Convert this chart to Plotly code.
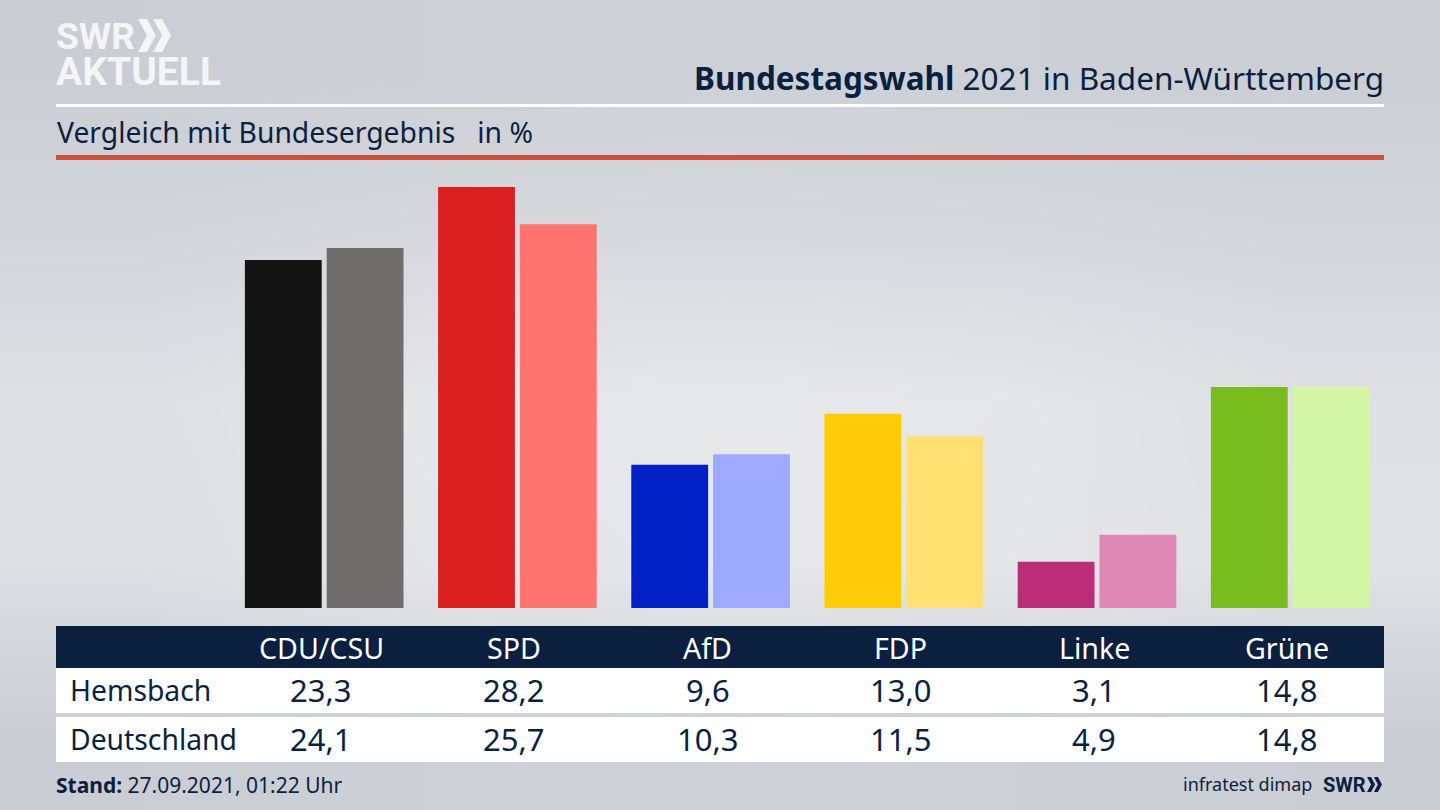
import plotly.graph_objects as go

W, H = 1440, 810
NAVY = "#0b1f3f"
FONT = "Noto Sans"
LOGO_FONT = "Roboto"

parties = ["CDU/CSU", "SPD", "AfD", "FDP", "Linke", "Grüne"]
hemsbach = [23.3, 28.2, 9.6, 13.0, 3.1, 14.8]
deutschland = [24.1, 25.7, 10.3, 11.5, 4.9, 14.8]
colors_hemsbach = ["#141414", "#d9201f", "#0020c4", "#ffcc0a", "#bb2d76", "#78bc1d"]
colors_deutschland = ["#6f6e6c", "#ff7370", "#9daaff", "#ffe070", "#df88b5", "#d3f5a6"]

# background greys, top to bottom
bg_levels = [
    [0.05, 0.12, 0.15, 0.12, 0.08],
    [0.32, 0.42, 0.45, 0.42, 0.34],
    [0.66, 0.88, 0.95, 0.88, 0.66],
    [0.62, 0.82, 0.90, 0.85, 0.72],
    [0.05, 0.12, 0.15, 0.12, 0.05],
]


def fx(x):
    return x / W


def fy(y):
    return 1 - y / H


def rect(x0, y0, x1, y1, color):
    return dict(type="rect", xref="paper", yref="paper", x0=fx(x0), x1=fx(x1),
                y0=fy(y0), y1=fy(y1), fillcolor=color, line_width=0, layer="above")


def chevrons(x, y, h, color):
    d = h * 0.27
    step = h * 0.46
    out = []
    for k in (0, 1):
        x0 = x + k * step
        pts = [(x0, y), (x0 + d, y), (x0 + 2 * d, y + h / 2), (x0 + d, y + h), (x0, y + h), (x0 + d, y + h / 2)]
        path = "M " + " L ".join(f"{fx(a):.5f},{fy(b):.5f}" for a, b in pts) + " Z"
        out.append(dict(type="path", xref="paper", yref="paper", path=path, fillcolor=color, line_width=0))
    return out


def label(x, y, text, size, color=NAVY, xanchor="left", xref="paper", family=FONT, xshift=0, **kw):
    return dict(x=fx(x) if xref == "paper" else x, y=fy(y), xref=xref, yref="paper", text=text,
                showarrow=False, xanchor=xanchor, yanchor="middle", xshift=xshift,
                font=dict(family=family, size=size, color=color), **kw)


fig = go.Figure()

fig.add_trace(go.Heatmap(z=bg_levels, zmin=0, zmax=1, zsmooth="best", showscale=False, hoverinfo="skip",
                         colorscale=[[0, "#c9ccd3"], [1, "#e9eaec"]], xaxis="x", yaxis="y"))
fig.add_trace(go.Bar(x=parties, y=hemsbach, name="Hemsbach", marker_color=colors_hemsbach,
                     marker_line_width=0, xaxis="x2", yaxis="y2"))
fig.add_trace(go.Bar(x=parties, y=deutschland, name="Deutschland", marker_color=colors_deutschland,
                     marker_line_width=0, xaxis="x2", yaxis="y2"))

shapes = [
    rect(56, 104, 1384, 107, "#ffffff"),
    rect(56, 155, 1384, 160, "#c9503c"),
    rect(56, 626, 1384, 668, NAVY),
    rect(56, 668, 1384, 713, "#ffffff"),
    rect(56, 717, 1384, 762, "#ffffff"),
]
shapes += chevrons(138, 19, 33, "#f4f5f6")
shapes += chevrons(1367, 777, 15, NAVY)

annotations = [
    label(54, 36, "<b>SWR</b>", 37, "#f4f5f6", family=LOGO_FONT, height=32),
    label(54, 72, "<b>AKTUELL</b>", 39, "#f4f5f6", family=LOGO_FONT, height=32),
    label(1386, 77, "<b>Bundestagswahl</b> 2021 in Baden-Württemberg", 31.5, xanchor="right"),
    label(55, 132, "Vergleich mit Bundesergebnis   in %", 28.3),
    label(68, 690, "Hemsbach", 28.3),
    label(68, 739, "Deutschland", 28.3),
    label(54, 785, "<b>Stand:</b> 27.09.2021, 01:22 Uhr", 21),
    label(1314, 784, "infratest dimap", 18, xanchor="right"),
    label(1368, 785, "<b>SWR</b>", 20, xanchor="right", family=LOGO_FONT),
]
for p, a, b in zip(parties, hemsbach, deutschland):
    annotations.append(label(p, 647, p, 28.6, "#ffffff", "center", "x2", xshift=-3))
    annotations.append(label(p, 690, f"{a:.1f}".replace(".", ","), 31, NAVY, "center", "x2", xshift=-3))
    annotations.append(label(p, 739, f"{b:.1f}".replace(".", ","), 31, NAVY, "center", "x2", xshift=-3))

fig.update_layout(
    width=W, height=H, margin=dict(l=0, r=0, t=0, b=0),
    paper_bgcolor="#dcdde1", plot_bgcolor="rgba(0,0,0,0)",
    showlegend=False, barmode="group", bargap=0.153, bargroupgap=0.061,
    shapes=shapes, annotations=annotations,
    xaxis=dict(domain=[0, 1], visible=False, fixedrange=True),
    yaxis=dict(domain=[0, 1], visible=False, fixedrange=True, autorange="reversed"),
    xaxis2=dict(domain=[fx(227.6), fx(1386.8)], anchor="y2", visible=False, type="category",
                categoryorder="array", categoryarray=parties, range=[-0.5, 5.5], fixedrange=True),
    yaxis2=dict(domain=[fy(608), fy(160)], anchor="x2", visible=False, range=[0, 30], fixedrange=True),
)

fig.write_html("out.html", post_script="document.body.style.margin='0';", config=dict(displayModeBar=False))
